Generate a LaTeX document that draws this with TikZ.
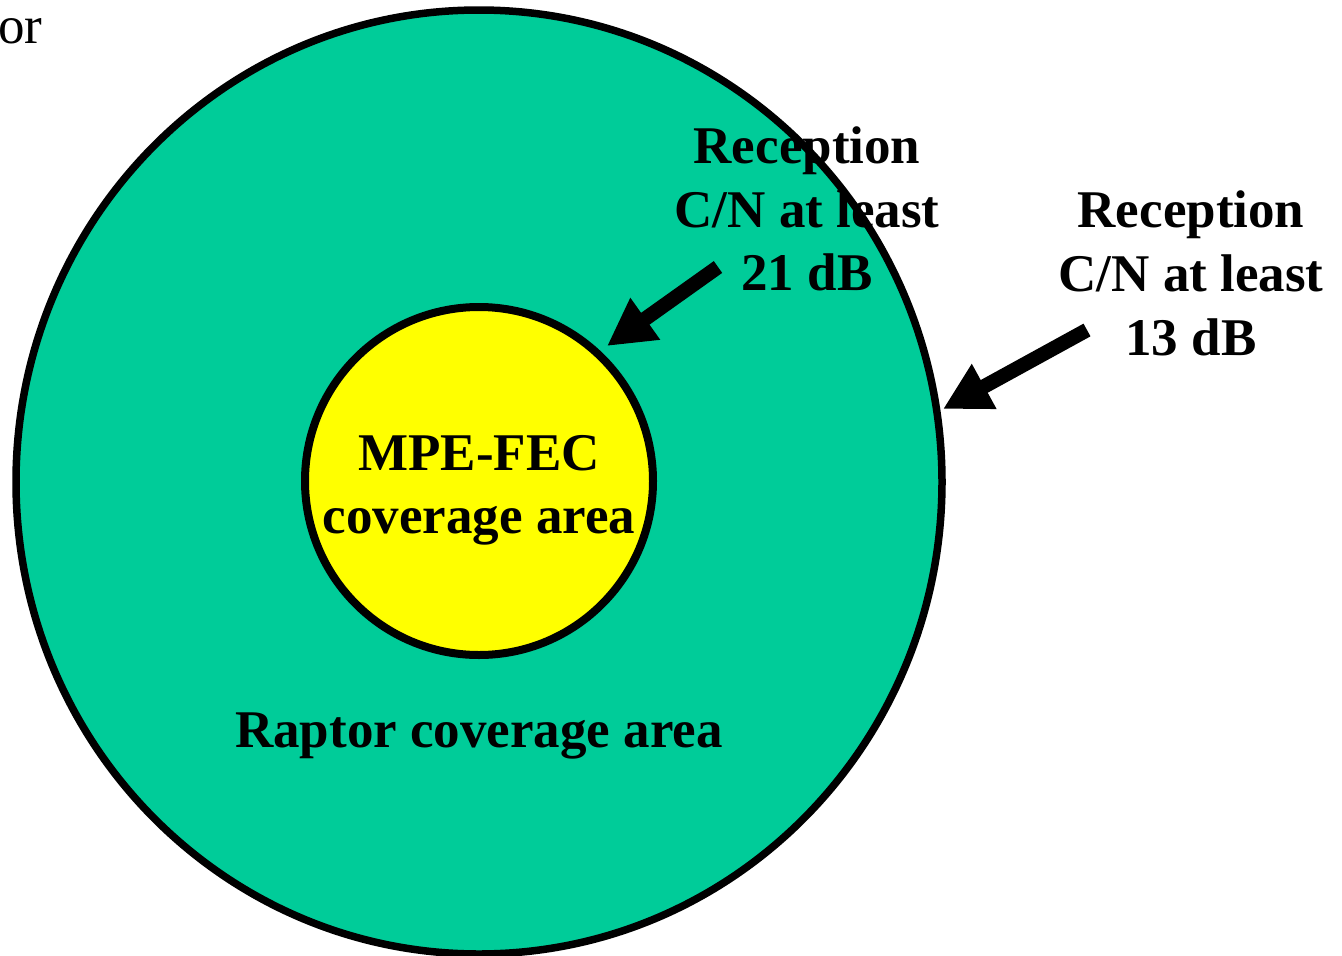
\documentclass[tikz,border=0pt]{standalone}
\usepackage{fontspec}
\setmainfont{Liberation Serif}
\usetikzlibrary{arrows.meta}
\definecolor{raptorgreen}{RGB}{0,204,153}
\definecolor{mpeyellow}{RGB}{255,255,0}
\begin{document}
\begin{tikzpicture}[x=1pt,y=-1pt,
  lbl/.style={font=\fontsize{53}{63.5}\selectfont\bfseries, anchor=base, inner sep=0pt},
  bigarrow/.style={line width=14.5pt, -{Triangle[length=47pt 0 0, width=48pt 0 0]}}]
\useasboundingbox (0,0) rectangle (1342,956);
% outer ellipse (Raptor)
\draw[line width=7.5pt, fill=raptorgreen] (479,482) ellipse [x radius=463, y radius=472];
% inner circle (MPE-FEC)
\draw[line width=8pt, fill=mpeyellow] (479,481) ellipse [x radius=174, y radius=174];
% "or"
\node[font=\fontsize{53}{63.5}\selectfont, anchor=base west, inner sep=0pt] (or) at (-2,43) {or};
% inner labels
\node[lbl] (mpe1) at (479,470) {MPE-FEC};
\node[lbl] (mpe2) at (479,533) {coverage area};
\node[lbl] (raptor) at (479,747) {Raptor coverage area};
% label 1
\node[lbl] (a1) at (807,163) {Reception};
\node[lbl] (a2) at (807,227) {C/N at least};
\node[lbl] (a3) at (807,290) {21 dB};
% label 2
\node[lbl] (b1) at (1191,227) {Reception};
\node[lbl] (b2) at (1191,291) {C/N at least};
\node[lbl] (b3) at (1191,355) {13 dB};
% arrows
\coordinate (s1) at (718,267);
\coordinate (t1) at (607,346);
\coordinate (s2) at (1087,330);
\coordinate (t2) at (943,409);
\draw[bigarrow] (s1) -- (t1);
\draw[bigarrow] (s2) -- (t2);
\end{tikzpicture}
\end{document}
